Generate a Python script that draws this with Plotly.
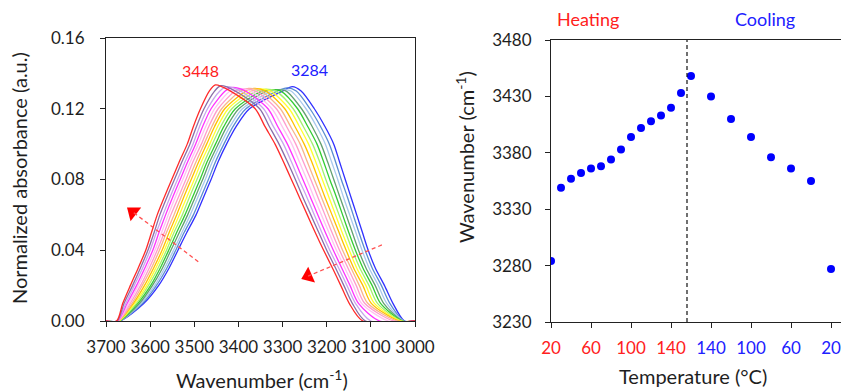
import plotly.graph_objects as go

# ---------------- Left panel: spectra (heating 20 -> 160 C) ----------------
left_levels = [0.0, 0.01, 0.02, 0.03, 0.04, 0.05, 0.06, 0.07, 0.08, 0.09, 0.10, 0.11, 0.12, 0.13]
right_levels = [0.13, 0.12, 0.11, 0.10, 0.09, 0.08, 0.07, 0.06, 0.05, 0.04, 0.03, 0.02, 0.01, 0.0]
spec_temps = [20, 30, 40, 50, 60, 70, 80, 90, 100, 110, 120, 130, 140, 150, 160]
peak_heights = [0.1325, 0.1318, 0.131, 0.1308, 0.1308, 0.131, 0.1312, 0.1315,
                0.1315, 0.1312, 0.1315, 0.132, 0.1325, 0.133, 0.1335]

# wavenumbers where each spectrum crosses left_levels, its peak, then right_levels
wn_20C = [3668, 3614, 3581, 3557, 3537, 3517, 3496, 3479, 3462, 3446, 3427, 3405, 3375, 3300, 3278,
          3258, 3228, 3204, 3184, 3171, 3158, 3145, 3132, 3119, 3106, 3090, 3069, 3050, 3024]
wn_30C = [3669, 3617, 3586, 3562, 3542, 3523, 3502, 3485, 3468, 3452, 3433, 3412, 3383, 3312, 3290,
          3269, 3238, 3214, 3194, 3180, 3167, 3153, 3140, 3127, 3113, 3097, 3076, 3057, 3025]
wn_40C = [3669, 3621, 3590, 3567, 3547, 3528, 3509, 3492, 3475, 3459, 3440, 3419, 3391, 3324, 3303,
          3281, 3247, 3223, 3203, 3189, 3175, 3162, 3148, 3134, 3120, 3104, 3083, 3064, 3026]
wn_50C = [3670, 3624, 3595, 3572, 3553, 3534, 3515, 3498, 3481, 3465, 3446, 3426, 3399, 3336, 3315,
          3292, 3257, 3233, 3213, 3198, 3184, 3170, 3156, 3142, 3128, 3111, 3090, 3071, 3027]
wn_60C = [3670, 3628, 3599, 3577, 3558, 3540, 3521, 3504, 3487, 3471, 3452, 3433, 3407, 3347, 3328,
          3304, 3266, 3243, 3222, 3207, 3193, 3178, 3164, 3150, 3135, 3118, 3097, 3078, 3028]
wn_70C = [3671, 3631, 3604, 3582, 3563, 3546, 3527, 3511, 3494, 3477, 3459, 3440, 3415, 3359, 3340,
          3315, 3276, 3253, 3232, 3216, 3202, 3187, 3172, 3157, 3142, 3125, 3104, 3085, 3030]
wn_80C = [3671, 3635, 3608, 3587, 3568, 3551, 3534, 3517, 3500, 3484, 3465, 3447, 3423, 3371, 3353,
          3327, 3285, 3262, 3241, 3225, 3210, 3195, 3180, 3165, 3149, 3132, 3111, 3092, 3032]
wn_90C = [3672, 3638, 3613, 3592, 3573, 3557, 3540, 3524, 3507, 3490, 3472, 3454, 3431, 3383, 3365,
          3338, 3295, 3272, 3251, 3234, 3219, 3204, 3188, 3172, 3156, 3139, 3118, 3099, 3035]
wn_100C = [3673, 3641, 3618, 3597, 3579, 3563, 3546, 3530, 3513, 3496, 3478, 3460, 3438, 3395, 3377,
           3349, 3305, 3282, 3260, 3244, 3228, 3212, 3196, 3180, 3164, 3145, 3126, 3107, 3040]
wn_110C = [3673, 3645, 3622, 3602, 3584, 3568, 3553, 3536, 3519, 3503, 3484, 3467, 3446, 3407, 3390,
           3361, 3314, 3291, 3270, 3253, 3236, 3220, 3204, 3188, 3171, 3152, 3133, 3114, 3048]
wn_120C = [3674, 3648, 3627, 3607, 3589, 3574, 3559, 3543, 3526, 3509, 3491, 3474, 3454, 3419, 3402,
           3372, 3324, 3301, 3279, 3262, 3245, 3229, 3212, 3195, 3178, 3159, 3140, 3121, 3060]
wn_130C = [3674, 3652, 3631, 3612, 3594, 3580, 3565, 3549, 3532, 3515, 3497, 3481, 3462, 3430, 3415,
           3384, 3333, 3311, 3289, 3271, 3254, 3237, 3220, 3203, 3185, 3166, 3147, 3128, 3080]
wn_140C = [3675, 3655, 3636, 3617, 3600, 3586, 3571, 3555, 3538, 3521, 3503, 3488, 3470, 3442, 3427,
           3395, 3343, 3321, 3298, 3280, 3263, 3245, 3228, 3211, 3193, 3173, 3154, 3135, 3100]
wn_150C = [3675, 3659, 3640, 3622, 3605, 3591, 3578, 3562, 3545, 3528, 3510, 3495, 3478, 3454, 3440,
           3407, 3352, 3330, 3308, 3289, 3271, 3254, 3236, 3218, 3200, 3180, 3161, 3142, 3112]
wn_160C = [3676, 3662, 3645, 3627, 3610, 3597, 3584, 3568, 3551, 3534, 3516, 3502, 3486, 3466, 3452,
           3418, 3362, 3340, 3317, 3298, 3280, 3262, 3244, 3226, 3207, 3187, 3168, 3149, 3118]

spectra_wn = [wn_20C, wn_30C, wn_40C, wn_50C, wn_60C, wn_70C, wn_80C, wn_90C,
              wn_100C, wn_110C, wn_120C, wn_130C, wn_140C, wn_150C, wn_160C]
spec_colors = ['#3030ff', '#5a8ed0', '#a8c9ec', '#62a070', '#33cc33', '#a4f070', '#ffff30',
               '#ffc000', '#f7b68c', '#ff9ccc', '#ffc2f0', '#ff33ff', '#c8a6ee', '#8a6ea8', '#ff2a2a']
wn_start, wn_end = 3700, 3000

# peak labels
peak_label_heat = "3448"
peak_label_cool = "3284"

# ---------------- Right panel: peak position vs temperature ----------------
heat_T = [20, 30, 40, 50, 60, 70, 80, 90, 100, 110, 120, 130, 140, 150, 160]
heat_wn = [3284, 3349, 3357, 3362, 3366, 3368, 3374, 3383, 3394, 3402, 3408, 3413, 3420, 3433, 3448]
cool_T = [140, 120, 100, 80, 60, 40, 20]
cool_wn = [3430, 3410, 3394, 3376, 3366, 3355, 3277]
T_max = 160
switch_pos = 156
tick_pos = [20, 60, 100, 140, 180, 220, 260, 300]
tick_T = [20, 60, 100, 140, 140, 100, 60, 20]

RED = '#ff2020'
BLUE = '#2020ff'
FONT = 'Lato'
TXT = '#1e1e1e'

# page body margin is removed by a post script, so page pixels == figure pixels
W, H = 843, 392


def px(x):
    return x / W


def py(y):
    return (H - y) / H


fig = go.Figure()

for wn, col, h in zip(spectra_wn, spec_colors, peak_heights):
    xs = [wn_start] + wn + [wn_end]
    ys = [0.0] + left_levels + [h] + right_levels + [0.0]
    fig.add_trace(go.Scatter(x=xs, y=ys, mode='lines', xaxis='x', yaxis='y',
                             line=dict(color=col, width=1.3, shape='spline', smoothing=0.8),
                             hoverinfo='skip', showlegend=False))

# arrows on left panel (dashed shaft + triangular head)
arrow1 = dict(tail=(3491, 0.0335), head=(3639, 0.0616), angle=-52)
arrow2 = dict(tail=(3075, 0.043), head=(3242, 0.0254), angle=-113)
for a in (arrow1, arrow2):
    fig.add_shape(type='line', xref='x', yref='y', x0=a['tail'][0], y0=a['tail'][1],
                  x1=a['head'][0], y1=a['head'][1],
                  line=dict(color='#ff5050', width=1.3, dash='4px,3px'))
    fig.add_trace(go.Scatter(x=[a['head'][0]], y=[a['head'][1]], mode='markers',
                             xaxis='x', yaxis='y',
                             marker=dict(symbol='triangle-up', size=15, color='#ff0000',
                                         angle=a['angle'], line=dict(width=0)),
                             hoverinfo='skip', showlegend=False))

fig.add_annotation(x=3487, y=0.1419, xref='x', yref='y', text=peak_label_heat, showarrow=False,
                   xanchor='center', yanchor='middle',
                   font=dict(family=FONT, size=16, color=RED))
fig.add_annotation(x=3240, y=0.1423, xref='x', yref='y', text=peak_label_cool, showarrow=False,
                   xanchor='center', yanchor='middle',
                   font=dict(family=FONT, size=16, color=BLUE))

# right panel points
fig.add_trace(go.Scatter(x=heat_T, y=heat_wn, mode='markers', xaxis='x2', yaxis='y2',
                         marker=dict(color='#0000ff', size=8), showlegend=False))
cool_pos = [2 * T_max - t for t in cool_T]
fig.add_trace(go.Scatter(x=cool_pos, y=cool_wn, mode='markers', xaxis='x2', yaxis='y2',
                         marker=dict(color='#0000ff', size=8), showlegend=False))

fig.add_shape(type='line', xref='x2', yref='y2 domain', x0=switch_pos, x1=switch_pos, y0=0, y1=1,
              line=dict(color='#111111', width=1.2, dash='4px,3px'))

tick_text = [f"<span style='color:{RED if i < 4 else BLUE}'>{t}</span>" for i, t in enumerate(tick_T)]

axis_common = dict(showgrid=False, zeroline=False, linecolor='#222222', linewidth=1,
                   ticks='outside', ticklen=5, tickwidth=1, tickcolor='#222222', automargin=False,
                   ticklabeloverflow='allow',
                   tickfont=dict(family=FONT, size=17, color=TXT))

fig.update_layout(
    width=W, height=H, margin=dict(l=0, r=0, t=0, b=0, autoexpand=False),
    paper_bgcolor='white', plot_bgcolor='white', showlegend=False,
    xaxis=dict(domain=[px(106), px(415)], range=[3700, 3000], dtick=100, tick0=3000,
               mirror=True, anchor='y', ticklabelstandoff=6, **axis_common),
    yaxis=dict(domain=[py(321), py(38)], range=[0, 0.16], dtick=0.04, tick0=0, tickformat='.2f',
               mirror=True, anchor='x', ticklabelstandoff=12, **axis_common),
    xaxis2=dict(domain=[px(551), px(841)], range=[20, 310], tickmode='array',
                tickvals=tick_pos, ticktext=tick_text, mirror=True, anchor='y2',
                ticklabelstandoff=6, **axis_common),
    yaxis2=dict(domain=[py(322), py(40)], range=[3230, 3480], dtick=50, tick0=3230, anchor='x2',
                ticklabelstandoff=10, **axis_common),
)

title_font = dict(family=FONT, size=20, color=TXT)


def label(x, y, text, font, angle=0):
    fig.add_annotation(x=px(x), y=py(y), xref='paper', yref='paper', showarrow=False,
                       xanchor='center', yanchor='middle', text=text, textangle=angle, font=font)


label(262, 379, 'Wavenumber (cm<sup>-1</sup>)', title_font)
label(693, 376, 'Temperature (°C)', title_font)
label(19, 178, 'Normalized absorbance (a.u.)', title_font, -90)
label(465, 157, 'Wavenumber (cm<sup>-1</sup>)', title_font, -90)
label(588, 19, 'Heating', dict(family=FONT, size=18, color=RED))
label(765, 19, 'Cooling', dict(family=FONT, size=18, color=BLUE))

fig.write_html("out.html", config={'displayModeBar': False},
               post_script="document.body.style.margin='0px';document.body.style.overflow='hidden';")
